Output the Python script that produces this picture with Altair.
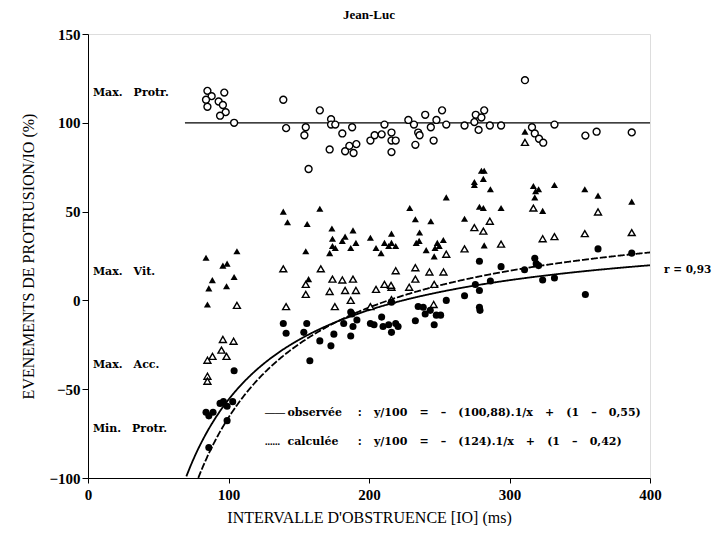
import altair as alt
import pandas as pd

# --- data -------------------------------------------------------------------
# Max. Protr. (open circles)
protr_max_x = [85, 97, 88, 84, 93, 96, 85, 98, 94, 104,
               139, 141, 155, 154, 157, 165, 173, 173, 176, 181,
               188, 172, 183, 189, 186, 191, 201, 204, 209, 211,
               216, 216, 219, 216, 228, 232, 235, 236, 233, 240,
               244, 248, 246, 252, 255, 268,
               275, 278, 276, 280, 282, 286, 294, 311, 316, 318,
               321, 324, 332, 354, 362, 387]
protr_max_y = [118, 117, 115, 113, 112, 110, 109, 106, 104, 100,
               113, 97, 97.5, 93, 74, 107, 102, 99, 99, 94,
               97.5, 85, 84, 83, 87, 88, 90, 93, 93.5, 99,
               94.5, 90, 90, 83.5, 101.6, 99, 94.5, 93, 87.6, 104.5,
               97.5, 101.6, 90, 107, 99, 98.5,
               100.4, 96, 104.5, 103, 107, 98.5, 98.5, 124, 97.5, 94,
               91, 88.8, 99, 92.8, 95, 94.6]

# Max. Vit. (filled triangles)
vit_x = [84, 106, 96, 99, 104, 88.5, 86, 98.6, 85,
         139, 142, 156, 165, 229, 233, 244, 255, 268,
         173.6, 174, 174, 176, 172, 181, 183, 188.6, 190.7, 187,
         201, 205, 208.6, 211, 216, 216, 219, 214, 236, 233.6,
         235.7, 240.7, 248.6, 252.9, 247, 246.4, 250, 155, 157,
         280, 282, 281.4, 275, 286.4, 317, 318.6, 318, 320.7, 332,
         353.6, 363, 387, 278.6, 281.4, 294, 323.6, 282, 311, 275]
vit_y = [24, 27.7, 19.6, 20.7, 13.2, 11.4, 6.8, 8, -2.3,
         50, 44, 43, 51.6, 52, 45.7, 44.6, 58, 46,
         40.5, 34.7, 30.6, 29.5, 26.6, 33.5, 35.9, 39.4, 32.4, 29.5,
         35.3, 29.5, 26.6, 32.4, 37.6, 32.4, 30.6, 30.6, 38.2, 32.4,
         33.5, 28.3, 32.4, 34, 29.5, 24.8, 30.6, 27.7, 12,
         73, 73, 68.4, 65, 62.6, 64.4, 61.5, 58, 62.6, 65,
         62.6, 59, 55.6, 52.7, 52, 52, 50.4, 31, 95, 66.7]

# Max. Acc. (open triangles)
acc_x = [96, 103.6, 95, 88.6, 85, 98.6, 85, 85, 106,
         139, 165.7, 155, 155, 174, 181, 188.6, 172, 183, 190.7,
         187, 141, 175.7, 205, 211, 216, 216, 201, 219, 233,
         233, 243, 253, 228.6, 246.4, 255, 246, 215.7, 268,
         275, 286, 294, 323.6, 332, 353.6, 363, 387, 317, 281.4, 311]
acc_y = [-22, -23, -28, -31.5, -33.7, -31.5, -42.7, -45.5, -2.8,
         17.8, 17.8, 9, 3.4, 12, 11.5, 12, 5, 5.6, 5.6,
         0, -3.5, -3.5, 6.2, 9, 7.4, 0.4, -3.5, 16.7, 18.4,
         12, 16, 16, 7.4, 9, 26, -2.3, 8.5, 29,
         41, 44.6, 31.7, 34.7, 35.9, 37.6, 49.8, 38.2, 52, 39, 89]

# Min. Protr. (filled circles)
protr_min_x = [104, 86, 84, 89, 96.4, 99, 103, 94, 99, 86,
               139, 141, 155.7, 153.6, 157.9, 165, 172.9, 175, 182, 187.9,
               187, 188.6, 191.4, 201, 203.6, 210, 209, 214, 216, 219,
               220.7, 233, 235, 238.6, 240, 243.6, 246.4, 247.9, 251, 255,
               268, 216, 187,
               275.7, 278.6, 278.6, 278.6, 279, 286.4, 294, 310.7, 318, 319,
               320.7, 323.6, 332, 354, 363, 387]
protr_min_y = [-39.6, -65, -63, -63, -57, -59.6, -57, -58, -67.7, -82.8,
               -13, -18.5, -13, -18, -34, -22.8, -25.6, -19, -13, -7.7,
               -20, -14.7, -11, -13, -13.7, -14.7, -9.4, -13.7, -18, -13,
               -14.7, -11.5, -3.4, -3.9, -7.7, -5.6, -13.7, -8.3, -8.3, 0,
               2.6, -1, -6.6,
               9, 22, 5.6, -3.9, -5.6, 10.9, 19, 17.3, 23.7, 20.7,
               19.6, 11.5, 12.6, 3.3, 29, 26.6]

# fitted curves: y/100 = -(a).1/x + (1 - b)
obs_a, obs_b = 100.88, 0.55
calc_a, calc_b = 124.0, 0.42

ref_level = [100]
ref_x_range = [69, 400]

S = "\u2003"  # em space: wide spacing of the typescript
side_labels = ["Max." + S + "Protr.", "Max." + S + "Vit.", "Max." + S + "Acc.", "Min." + S + "Protr."]
side_label_y = [117, 16, -36.5, -72.6]

eq_names = ["observée", "calculée"]
eq_samples = ["——", "......"]
G = "\u2003\u200a"
eq_texts = [":" + G + "y/100" + G + "=" + G + "–" + G + "(100,88).1/x" + G + "+" + G + "(1" + G + "–" + G + "0,55)",
            ":" + G + "y/100" + G + "=" + G + "–" + G + "(124).1/x" + G + "+" + G + "(1" + G + "–" + G + "0,42)"]
eq_y = [-63.5, -79.5]

x_ticks = [0, 100, 200, 300, 400]
y_ticks = [-100, -50, 0, 50, 100, 150]

FONT = "Liberation Serif"
WIDE = "DejaVu Serif"

xs = alt.Scale(domain=[0, 400], nice=False, zero=False)
ys = alt.Scale(domain=[-100, 150], nice=False, zero=False)

xax = alt.Axis(values=x_ticks, title="INTERVALLE D'OBSTRUENCE [IO] (ms)", grid=False,
               labelFont=FONT, labelFontWeight="bold", labelFontSize=15, labelColor="black",
               titleFont=FONT, titleFontSize=16, titleFontWeight="normal", titleColor="black",
               tickColor="black", domainColor="black", tickSize=5, labelPadding=4,
               titlePadding=7, labelFlush=False)
yax = alt.Axis(values=y_ticks, title="EVENEMENTS DE PROTRUSION/IO (%)", grid=False,
               labelFont=FONT, labelFontWeight="bold", labelFontSize=15, labelColor="black",
               titleFont=FONT, titleFontSize=16, titleFontWeight="normal", titleColor="black",
               tickColor="black", domainColor="black", tickSize=6, labelPadding=2,
               titlePadding=12, labelFlush=False)


def pts(xv, yv, shape, filled):
    df = pd.DataFrame({"x": xv, "y": yv})
    if filled:
        m = alt.Chart(df).mark_point(shape=shape, filled=True, color="black", size=50, opacity=1)
    else:
        m = alt.Chart(df).mark_point(shape=shape, filled=False, color="black", size=48,
                                     strokeWidth=1.4, fill="white", fillOpacity=1, opacity=1)
    return m.encode(x=alt.X("x:Q", scale=xs, axis=xax), y=alt.Y("y:Q", scale=ys, axis=yax))


ref_df = pd.DataFrame({"x": [ref_x_range[0]], "x2": [ref_x_range[1]], "y": ref_level})
ref_line = alt.Chart(ref_df).mark_rule(color="black", strokeWidth=1.2).encode(
    x=alt.X("x:Q", scale=xs, axis=xax), x2="x2:Q", y=alt.Y("y:Q", scale=ys, axis=yax))


def curve(a, b, dash):
    c = alt.Chart(alt.sequence(60, 400.5, 0.5, as_="x")).transform_calculate(
        y=f"100 * (-{a} / datum.x + (1 - {b}))"
    ).transform_filter("datum.y >= -100")
    kw = dict(color="black", strokeWidth=1.8, clip=True)
    if dash:
        kw["strokeDash"] = dash
    return c.mark_line(**kw).encode(x=alt.X("x:Q", scale=xs, axis=xax),
                                     y=alt.Y("y:Q", scale=ys, axis=yax))


def txt(df, font, size, weight="bold", align="left"):
    return alt.Chart(df).mark_text(align=align, baseline="middle", font=font, fontSize=size,
                                   fontWeight=weight, color="black").encode(
        x=alt.X("x:Q", scale=xs), y=alt.Y("y:Q", scale=ys), text="t:N")


labels = txt(pd.DataFrame({"t": side_labels, "x": [3.5] * 4, "y": side_label_y}), WIDE, 11)

eq_sample = txt(pd.DataFrame({"t": eq_samples, "x": [126, 126], "y": eq_y}), FONT, 10)
eq_name = txt(pd.DataFrame({"t": eq_names, "x": [142, 142], "y": eq_y}), WIDE, 11)
eq_body = txt(pd.DataFrame({"t": eq_texts, "x": [192, 192], "y": eq_y}), WIDE, 11)

r_txt = txt(pd.DataFrame({"t": ["r = 0,93"], "x": [410], "y": [17.3]}), WIDE, 10.5)

chart = alt.layer(
    ref_line,
    curve(obs_a, obs_b, None),
    curve(calc_a, calc_b, [7, 2]),
    pts(protr_max_x, protr_max_y, "circle", False),
    pts(acc_x, acc_y, "triangle-up", False),
    pts(vit_x, vit_y, "triangle-up", True),
    pts(protr_min_x, protr_min_y, "circle", True),
    labels, eq_sample, eq_name, eq_body, r_txt,
).properties(
    width=562, height=444,
    title=alt.TitleParams("Jean-Luc", font=FONT, fontSize=13, fontWeight="bold",
                          color="black", offset=5, anchor="middle"),
    autosize=alt.AutoSizeParams(type="none"),
    padding={"left": 80, "top": 26, "right": 65, "bottom": 48},
).configure_view(stroke="black", strokeWidth=1.2).configure(background="white")

chart.save("out.html", embed_options={"renderer": "svg", "actions": False})
